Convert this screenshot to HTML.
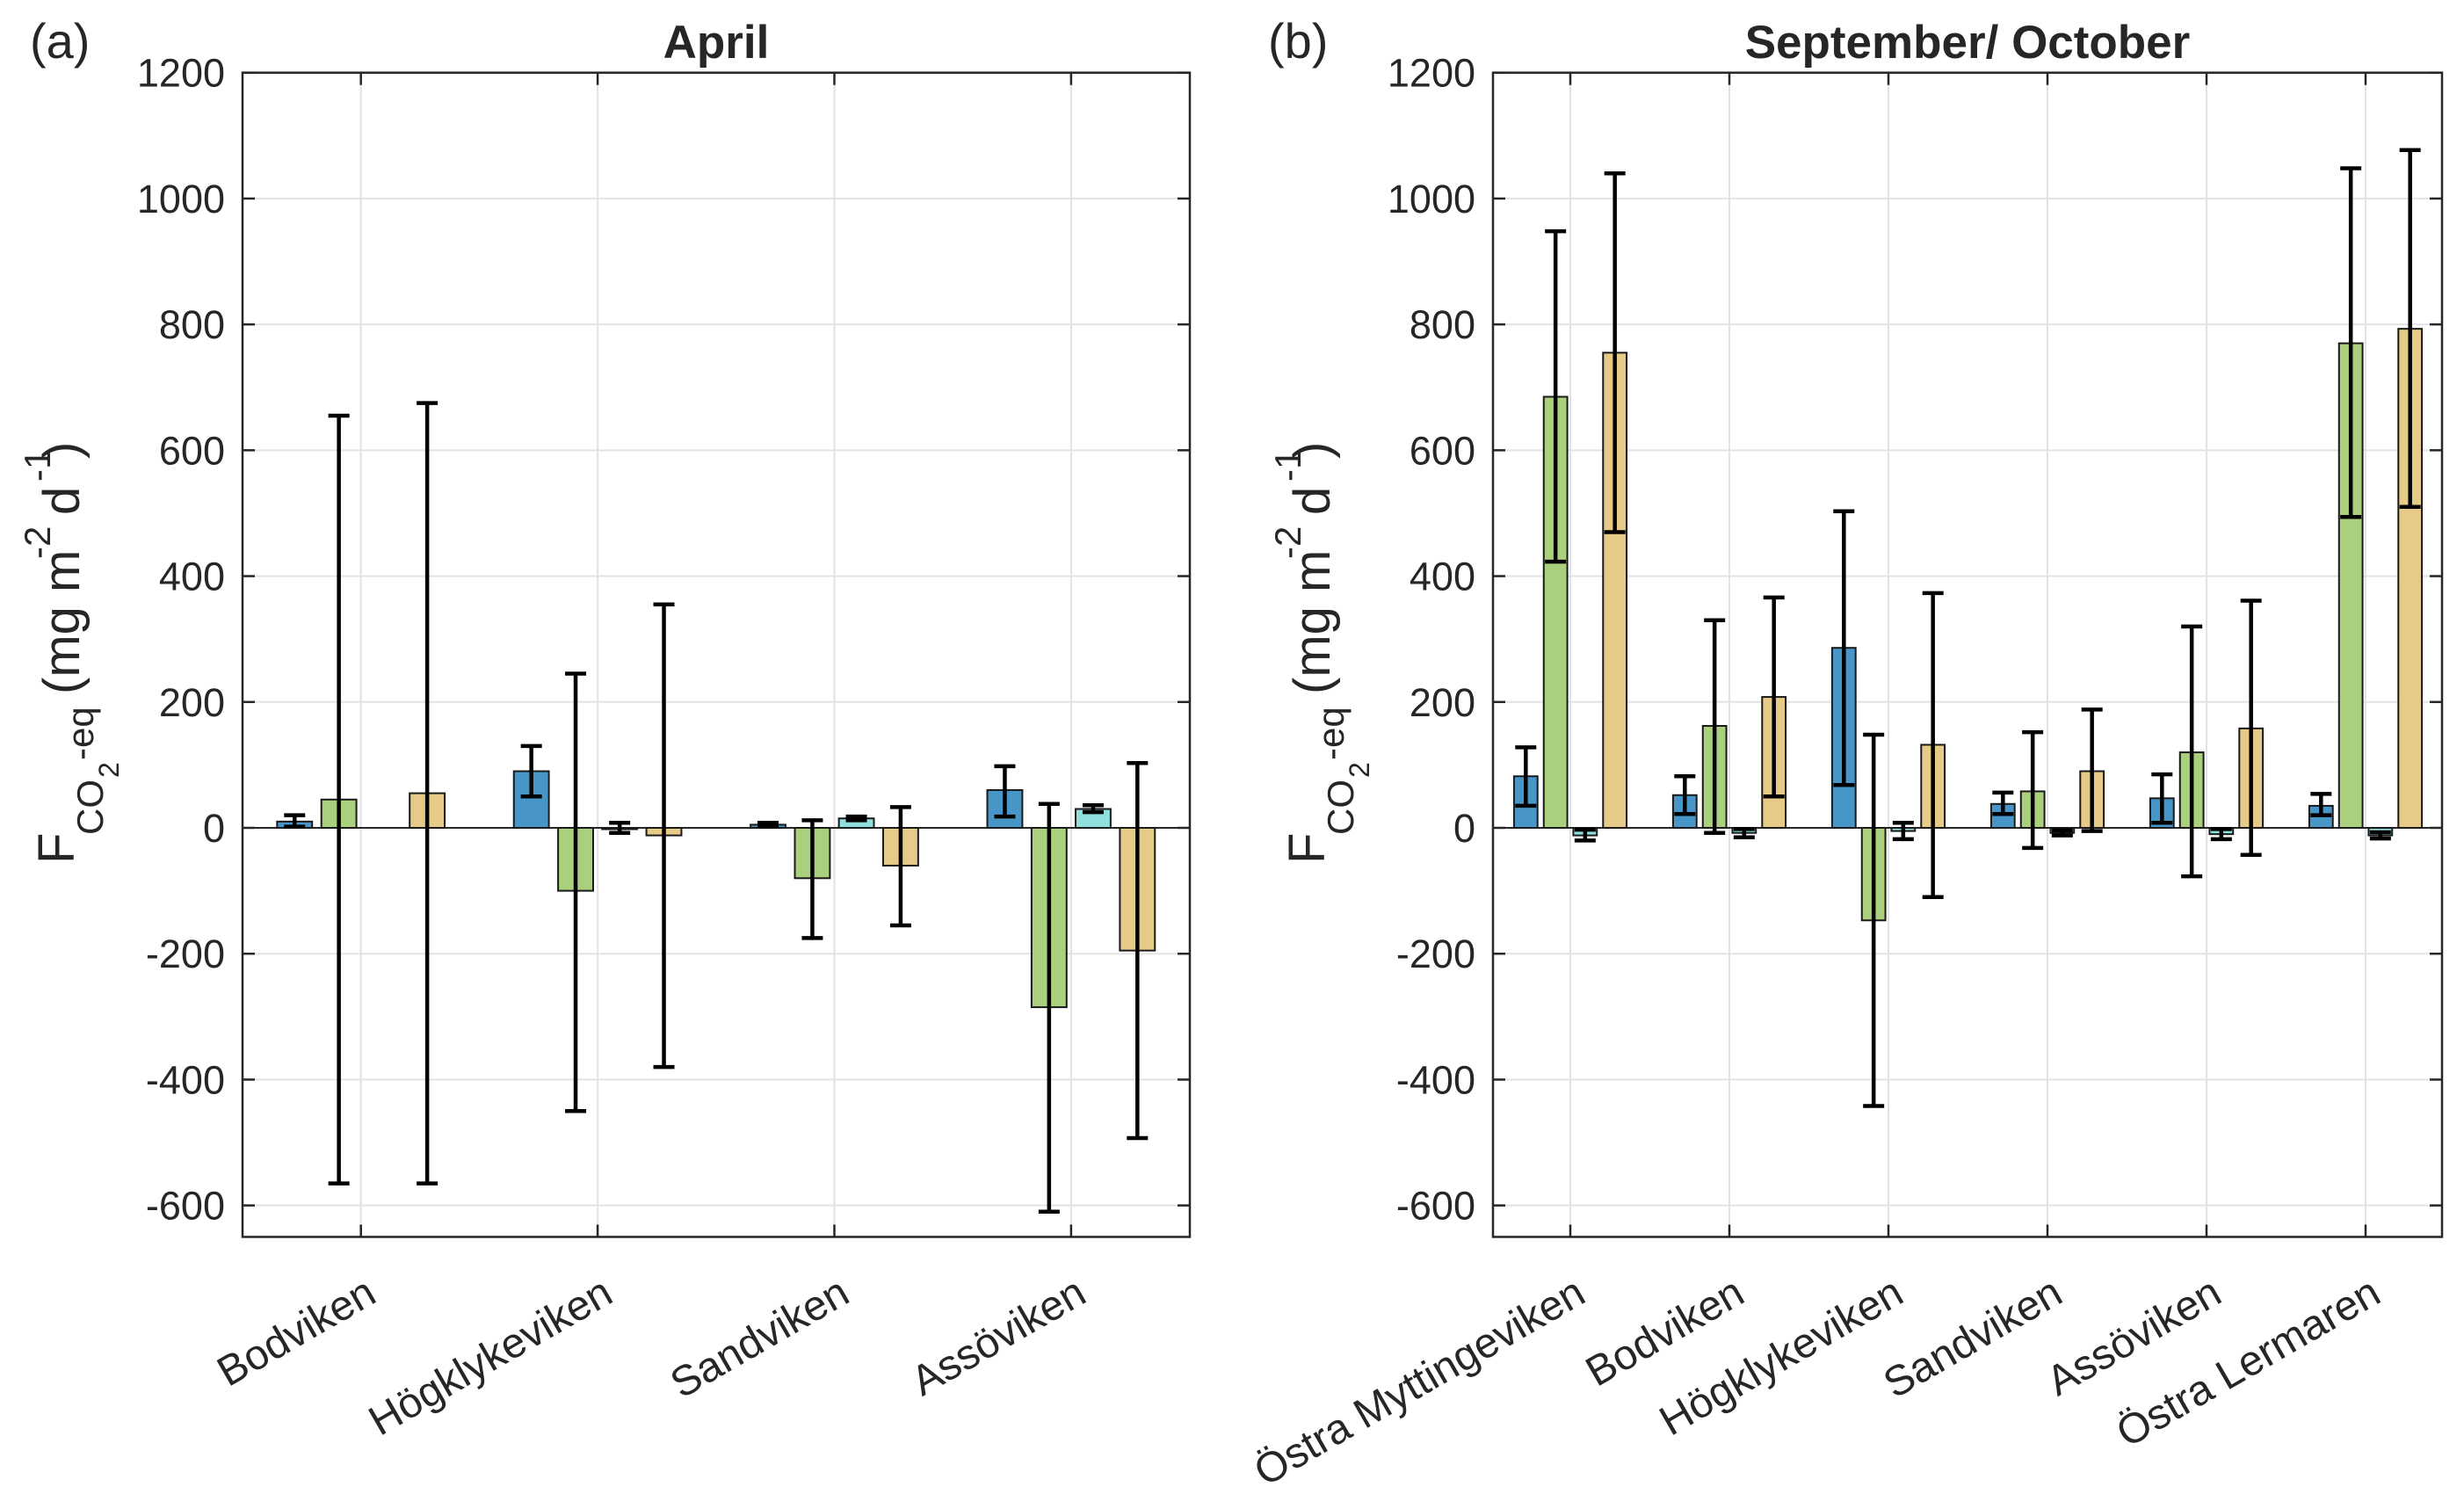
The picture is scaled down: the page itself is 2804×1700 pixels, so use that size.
<!DOCTYPE html>
<html><head><meta charset="utf-8"><style>
html,body{margin:0;padding:0;background:#fff}
svg{display:block}
text{font-family:"Liberation Sans",Arial,sans-serif;fill:#262626}
</style></head><body>
<svg id="chart" xmlns="http://www.w3.org/2000/svg" width="2804" height="1700" viewBox="0 0 2804 1700"></svg>
<script>
const seriesColors = ["#4896c8", "#abd07d", "#8fe0dc", "#e6cb88"];
const yTicks = [-600, -400, -200, 0, 200, 400, 600, 800, 1000, 1200];

const catsA = ["Bodviken", "Högklykeviken", "Sandviken", "Assöviken"];
const valsA_blue   = [10, 90, 5, 60];
const valsA_green  = [45, -100, -80, -285];
const valsA_cyan   = [null, 0, 15, 30];
const valsA_yellow = [55, -12, -60, -195];
const lowA_blue   = [2, 50, 2, 18];
const highA_blue  = [20, 130, 8, 98];
const lowA_green  = [-565, -450, -175, -610];
const highA_green = [655, 245, 12, 38];
const lowA_cyan   = [null, -8, 12, 25];
const highA_cyan  = [null, 8, 18, 36];
const lowA_yellow = [-565, -380, -155, -493];
const highA_yellow= [675, 355, 33, 103];

const catsB = ["Östra Myttingeviken", "Bodviken", "Högklykeviken", "Sandviken", "Assöviken", "Östra Lermaren"];
const valsB_blue   = [82, 52, 286, 38, 47, 35];
const valsB_green  = [685, 162, -147, 58, 120, 770];
const valsB_cyan   = [-12, -8, -5, -8, -10, -12];
const valsB_yellow = [755, 208, 132, 90, 158, 793];
const lowB_blue   = [35, 22, 68, 22, 8, 20];
const highB_blue  = [128, 82, 503, 56, 85, 54];
const lowB_green  = [423, -8, -442, -32, -77, 494];
const highB_green = [948, 330, 148, 152, 320, 1048];
const lowB_cyan   = [-20, -15, -18, -12, -18, -17];
const highB_cyan  = [-3, -2, 8, -4, -2, -7];
const lowB_yellow = [470, 50, -110, -5, -43, 510];
const highB_yellow= [1040, 366, 373, 188, 361, 1077];

const NS = "http://www.w3.org/2000/svg";
const svg = document.getElementById("chart");
function mk(tag, attrs, parent) {
  const e = document.createElementNS(NS, tag);
  for (const k in attrs) e.setAttribute(k, attrs[k]);
  (parent || svg).appendChild(e);
  return e;
}
const TOP = 82.7, ZERO = 942, PX = (942 - 82.7) / 1200;
function yScale(v) { return ZERO - v * PX; }
const BOTTOM = yScale(-650);

function panel(opts) {
  const g = mk("g", {});
  
  
  const L = opts.left, R = opts.right;
  const xs = i => opts.first + i * opts.step;
  yTicks.forEach(t => {
    const l = mk("line", {x1: L, x2: R, y1: yScale(t), y2: yScale(t), stroke: "#e3e3e3", "stroke-width": 2}, g);
    
    
  });
  opts.cats.forEach((c, i) => {
    const l = mk("line", {x1: xs(i), x2: xs(i), y1: TOP, y2: BOTTOM, stroke: "#e3e3e3", "stroke-width": 2}, g);
    
    
  });
  const z = mk("line", {x1: L, x2: R, y1: yScale(0), y2: yScale(0), stroke: "#262626", "stroke-width": 2}, g);
  
  
  const offs = [-0.28, -0.093, 0.093, 0.28];
  const bw = 0.148 * opts.step;
  opts.cats.forEach((c, i) => {
    for (let s = 0; s < 4; s++) {
      const v = opts.vals[s][i];
      if (v === null) continue;
      const cx = xs(i) + offs[s] * opts.step;
      const y0 = yScale(Math.max(v, 0)), y1 = yScale(Math.min(v, 0));
      const r = mk("rect", {x: cx - bw / 2, y: y0, width: bw, height: Math.max(y1 - y0, 1.5), fill: seriesColors[s], stroke: "#1a1a1a", "stroke-width": 2}, g);
      
      
    }
  });
  opts.cats.forEach((c, i) => {
    for (let s = 0; s < 4; s++) {
      const lo = opts.lows[s][i], hi = opts.highs[s][i];
      if (lo === null) continue;
      const cx = xs(i) + offs[s] * opts.step;
      const eg = mk("g", {stroke: "#000", "stroke-width": 4.5}, g);
      
      
      mk("line", {x1: cx, x2: cx, y1: yScale(lo), y2: yScale(hi)}, eg);
      mk("line", {x1: cx - 12, x2: cx + 12, y1: yScale(lo), y2: yScale(lo)}, eg);
      mk("line", {x1: cx - 12, x2: cx + 12, y1: yScale(hi), y2: yScale(hi)}, eg);
    }
  });
  const box = mk("rect", {x: L, y: TOP, width: R - L, height: BOTTOM - TOP, fill: "none", stroke: "#262626", "stroke-width": 2.5}, g);
  
  
  yTicks.forEach(t => {
    mk("line", {x1: L, x2: L + 14, y1: yScale(t), y2: yScale(t), stroke: "#262626", "stroke-width": 2.5}, g);
    mk("line", {x1: R - 14, x2: R, y1: yScale(t), y2: yScale(t), stroke: "#262626", "stroke-width": 2.5}, g);
    const tl = mk("text", {x: L - 20, y: yScale(t) + 16, "text-anchor": "end", "font-size": 45}, g);
    tl.textContent = String(t);
    
    
  });
  opts.cats.forEach((c, i) => {
    mk("line", {x1: xs(i), x2: xs(i), y1: TOP, y2: TOP + 14, stroke: "#262626", "stroke-width": 2.5}, g);
    mk("line", {x1: xs(i), x2: xs(i), y1: BOTTOM - 14, y2: BOTTOM, stroke: "#262626", "stroke-width": 2.5}, g);
    const tx = xs(i) + 20, ty = 1480;
    const cl = mk("text", {x: tx, y: ty, "text-anchor": "end", "font-size": 48, transform: `rotate(-30 ${tx} ${ty})`}, g);
    cl.textContent = c;
    
    
  });
  const tt = mk("text", {x: (L + R) / 2, y: 66, "text-anchor": "middle", "font-size": 53, "font-weight": "bold", fill: "#000"}, g);
  tt.textContent = opts.title;
  
  
  const pl = mk("text", {x: opts.labelX, y: 66, "font-size": 56, fill: "#000"}, g);
  pl.textContent = opts.panelLabel;
  
  
  const dx = L - 276;
  const yt = mk("text", {transform: `translate(${dx},0) rotate(-90)`}, g);
  
  
  const parts = [["F", 58, 983, 84], ["CO", 42, 950, 117], ["2", 32, 885, 135], ["-eq", 42, 865, 106],
    ["(mg m", 58, 790, 90], ["-2", 42, 636, 57], ["d", 58, 586, 90], ["-1", 42, 548, 57], [")", 58, 522, 90]];
  parts.forEach(p => {
    const ts = mk("tspan", {x: -p[2], y: p[3], "font-size": p[1]}, yt);
    ts.textContent = p[0];
  });
}

panel({name: "panel-april", left: 276, right: 1354, first: 410.7, step: 269.4, cats: catsA,
  vals: [valsA_blue, valsA_green, valsA_cyan, valsA_yellow],
  lows: [lowA_blue, lowA_green, lowA_cyan, lowA_yellow],
  highs: [highA_blue, highA_green, highA_cyan, highA_yellow],
  title: "April", panelLabel: "(a)", labelX: 34});
panel({name: "panel-sept-oct", left: 1699, right: 2779, first: 1787, step: 181, cats: catsB,
  vals: [valsB_blue, valsB_green, valsB_cyan, valsB_yellow],
  lows: [lowB_blue, lowB_green, lowB_cyan, lowB_yellow],
  highs: [highB_blue, highB_green, highB_cyan, highB_yellow],
  title: "September/ October", panelLabel: "(b)", labelX: 1443});
</script>
</body></html>
